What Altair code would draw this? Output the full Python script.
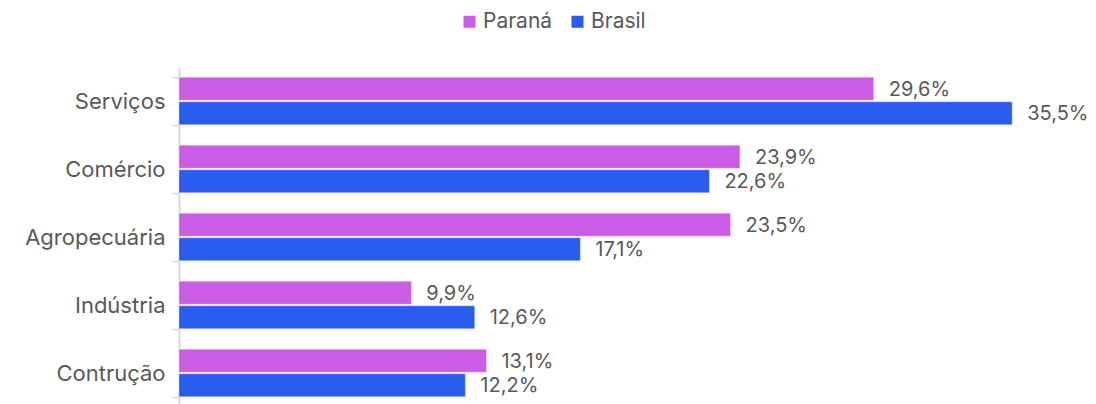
import altair as alt
import pandas as pd

categories = ["Serviços", "Comércio", "Agropecuária", "Indústria", "Contrução"]
series = ["Paraná", "Brasil"]
parana = [29.6, 23.9, 23.5, 9.9, 13.1]
brasil = [35.5, 22.6, 17.1, 12.6, 12.2]
colors = ["#CB5CE6", "#2A5CF0"]

rows = []
for c, p, b in zip(categories, parana, brasil):
    for s, v in zip(series, [p, b]):
        rows.append({"cat": c, "serie": s, "valor": v,
                     "rotulo": f"{v:.1f}".replace(".", ",") + "%"})
df = pd.DataFrame(rows)

FONT = "Inter"
TXT = "#595959"

y_enc = alt.Y("cat:N", sort=categories,
              scale=alt.Scale(paddingInner=0.3, paddingOuter=0.15),
              axis=alt.Axis(title=None, domainColor="#d9d9d9", domainWidth=2,
                            tickColor="#d9d9d9", tickSize=7, tickWidth=1.5,
                            tickBand="extent", labelFontSize=22,
                            labelColor=TXT, labelPadding=7, labelFont=FONT))
yoff = alt.YOffset("serie:N", sort=series, scale=alt.Scale(paddingInner=0.06))
x_enc = alt.X("valor:Q", scale=alt.Scale(domain=[0, 38.73], nice=False, zero=True),
              axis=None)

base = alt.Chart(df).encode(y=y_enc, yOffset=yoff, x=x_enc)

bars = base.mark_bar(stroke="#ffffff", strokeWidth=0.6, strokeOpacity=0.6).encode(
    color=alt.Color("serie:N", sort=series,
                    scale=alt.Scale(domain=series, range=colors),
                    legend=alt.Legend(title=None, orient="none", direction="horizontal",
                                      legendX=280, legendY=-56,
                                      symbolType="square", symbolSize=144,
                                      symbolStrokeWidth=0,
                                      labelFontSize=21, labelColor=TXT, labelFont=FONT,
                                      labelOffset=3, columnPadding=14))
)

labels = base.mark_text(align="left", baseline="middle", dx=15, dy=1,
                        fontSize=20, color=TXT, font=FONT).encode(text="rotulo:N")

chart = (bars + labels).properties(
    width=909, height=340,
    autosize=alt.AutoSizeParams(type="none"),
    padding={"left": 171, "top": 59, "right": 0, "bottom": 0},
).configure_view(stroke=None)

chart.save("out.html", embed_options={"renderer": "svg", "actions": False})
